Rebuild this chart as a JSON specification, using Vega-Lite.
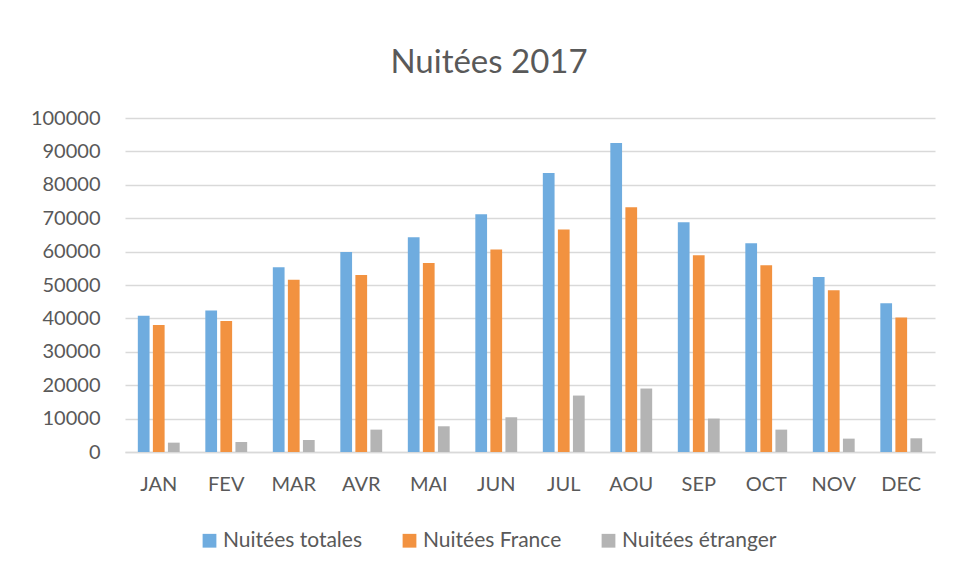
{
  "$schema": "https://vega.github.io/schema/vega-lite/v6.json",
  "width": 810,
  "height": 334,
  "autosize": {"type": "none"},
  "padding": {"left": 125, "top": 118, "right": 24, "bottom": 126},
  "background": "white",
  "title": {
    "text": "Nuitées 2017",
    "font": "Lato",
    "fontSize": 33,
    "fontWeight": "normal",
    "color": "#595959",
    "anchor": "middle",
    "baseline": "alphabetic",
    "offset": 2,
    "dx": -41
  },
  "data": {
    "values": [
      {"mois": "JAN", "serie": "Nuitées totales", "valeur": 40800},
      {"mois": "JAN", "serie": "Nuitées France", "valeur": 38000},
      {"mois": "JAN", "serie": "Nuitées étranger", "valeur": 2800},
      {"mois": "FEV", "serie": "Nuitées totales", "valeur": 42400},
      {"mois": "FEV", "serie": "Nuitées France", "valeur": 39200},
      {"mois": "FEV", "serie": "Nuitées étranger", "valeur": 3000},
      {"mois": "MAR", "serie": "Nuitées totales", "valeur": 55300},
      {"mois": "MAR", "serie": "Nuitées France", "valeur": 51600},
      {"mois": "MAR", "serie": "Nuitées étranger", "valeur": 3600},
      {"mois": "AVR", "serie": "Nuitées totales", "valeur": 59900},
      {"mois": "AVR", "serie": "Nuitées France", "valeur": 53000},
      {"mois": "AVR", "serie": "Nuitées étranger", "valeur": 6700},
      {"mois": "MAI", "serie": "Nuitées totales", "valeur": 64300},
      {"mois": "MAI", "serie": "Nuitées France", "valeur": 56600},
      {"mois": "MAI", "serie": "Nuitées étranger", "valeur": 7700},
      {"mois": "JUN", "serie": "Nuitées totales", "valeur": 71200},
      {"mois": "JUN", "serie": "Nuitées France", "valeur": 60600},
      {"mois": "JUN", "serie": "Nuitées étranger", "valeur": 10400},
      {"mois": "JUL", "serie": "Nuitées totales", "valeur": 83500},
      {"mois": "JUL", "serie": "Nuitées France", "valeur": 66600},
      {"mois": "JUL", "serie": "Nuitées étranger", "valeur": 16900},
      {"mois": "AOU", "serie": "Nuitées totales", "valeur": 92500},
      {"mois": "AOU", "serie": "Nuitées France", "valeur": 73300},
      {"mois": "AOU", "serie": "Nuitées étranger", "valeur": 19000},
      {"mois": "SEP", "serie": "Nuitées totales", "valeur": 68800},
      {"mois": "SEP", "serie": "Nuitées France", "valeur": 58900},
      {"mois": "SEP", "serie": "Nuitées étranger", "valeur": 10000},
      {"mois": "OCT", "serie": "Nuitées totales", "valeur": 62500},
      {"mois": "OCT", "serie": "Nuitées France", "valeur": 55900},
      {"mois": "OCT", "serie": "Nuitées étranger", "valeur": 6700},
      {"mois": "NOV", "serie": "Nuitées totales", "valeur": 52400},
      {"mois": "NOV", "serie": "Nuitées France", "valeur": 48400},
      {"mois": "NOV", "serie": "Nuitées étranger", "valeur": 4000},
      {"mois": "DEC", "serie": "Nuitées totales", "valeur": 44500},
      {"mois": "DEC", "serie": "Nuitées France", "valeur": 40300},
      {"mois": "DEC", "serie": "Nuitées étranger", "valeur": 4100}
    ]
  },
  "mark": {"type": "bar"},
  "encoding": {
    "x": {
      "field": "mois",
      "type": "nominal",
      "sort": ["JAN", "FEV", "MAR", "AVR", "MAI", "JUN", "JUL", "AOU", "SEP", "OCT", "NOV", "DEC"],
      "scale": {"paddingInner": 0.38, "paddingOuter": 0.19},
      "axis": {
        "title": null,
        "labelAngle": 0,
        "ticks": false,
        "domainColor": "#D9D9D9",
        "domainWidth": 1.3,
        "labelPadding": 22,
        "labelFont": "Lato",
        "labelFontSize": 20,
        "labelColor": "#595959"
      }
    },
    "xOffset": {
      "field": "serie",
      "type": "nominal",
      "sort": ["Nuitées totales", "Nuitées France", "Nuitées étranger"],
      "scale": {"paddingInner": 0.22, "paddingOuter": 0}
    },
    "y": {
      "field": "valeur",
      "type": "quantitative",
      "scale": {"domain": [0, 100000], "nice": false},
      "axis": {
        "title": null,
        "values": [0, 10000, 20000, 30000, 40000, 50000, 60000, 70000, 80000, 90000, 100000],
        "format": "d",
        "ticks": false,
        "domain": false,
        "gridColor": "#D9D9D9",
        "gridWidth": 1.3,
        "labelPadding": 25,
        "labelFont": "Lato",
        "labelFontSize": 20,
        "labelColor": "#595959"
      }
    },
    "color": {
      "field": "serie",
      "type": "nominal",
      "sort": ["Nuitées totales", "Nuitées France", "Nuitées étranger"],
      "scale": {
        "domain": ["Nuitées totales", "Nuitées France", "Nuitées étranger"],
        "range": ["#6FACDF", "#F29240", "#B4B4B4"]
      },
      "legend": {
        "title": null,
        "orient": "none",
        "direction": "horizontal",
        "legendX": 74,
        "legendY": 412,
        "symbolType": "square",
        "symbolSize": 190,
        "symbolStrokeWidth": 0,
        "labelFont": "Lato",
        "labelFontSize": 21,
        "labelColor": "#595959",
        "labelOffset": 3,
        "columnPadding": 36
      }
    }
  },
  "config": {
    "view": {"stroke": null}
  }
}
